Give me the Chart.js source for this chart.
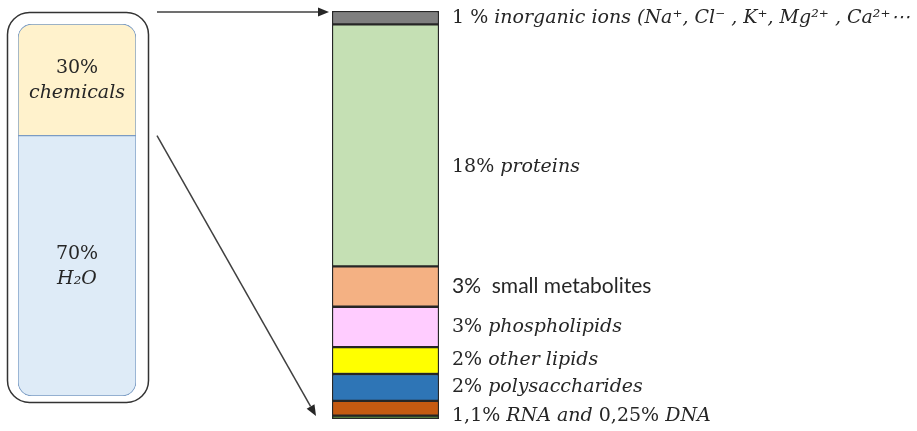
<!DOCTYPE html>
<html>
<head>
<meta charset="utf-8">
<script src="https://cdn.jsdelivr.net/npm/chart.js@4.4.1/dist/chart.umd.min.js"></script>
<style>
  html, body { margin: 0; padding: 0; background: #fff; }
  #wrap { position: relative; width: 917px; height: 431px; }
  #cell { position: absolute; left: 0; top: 0; }
  #chem { position: absolute; left: 150px; top: 0; }
</style>
</head>
<body>
<div id="wrap">
  <canvas id="cell" width="160" height="431"></canvas>
  <canvas id="chem" width="767" height="431"></canvas>
</div>
<script>
// cell content (whole cell, %)
var cellParts = ['H2O', 'chemicals'];
var cellValues = [70, 30];
var cellColors = ['#deebf7', '#fff2cc'];

// chemicals, bottom to top (% of cell mass)
var chemParts = ['DNA', 'RNA', 'polysaccharides', 'other lipids', 'phospholipids', 'small metabolites', 'proteins', 'inorganic ions'];
var chemValues = [0.25, 1.1, 2, 2, 3, 3, 18, 1];
var chemColors = ['#548235', '#c55a11', '#2e75b6', '#ffff00', '#ffccff', '#f4b183', '#c5e0b4', '#7f7f7f'];

var serif = '"DejaVu Serif"';
var textColor = '#262626';

function drawRuns(ctx, runs, x, y) {
    ctx.textBaseline = 'middle';
    ctx.textAlign = 'left';
    runs.forEach(function (r) {
        ctx.font = r[1];
        ctx.fillStyle = textColor;
        ctx.fillText(r[0], x, y);
        x += ctx.measureText(r[0]).width;
    });
}

var up = '19px ' + serif;
var it = 'italic 19px ' + serif;
var sans = '21px Lato';

// label text for each chem segment (index into chemParts)
var chemLabels = [
    { seg: 7, runs: [['1 % ', up], ['inorganic ions (Na\u207A, Cl\u207B , K\u207A, Mg\u00B2\u207A , Ca\u00B2\u207A\u22EF', it]] },
    { seg: 6, dy: 22, runs: [['18% ', up], ['proteins', it]] },
    { seg: 5, runs: [['3%  small metabolites', sans]] },
    { seg: 4, runs: [['3% ', up], ['phospholipids', it]] },
    { seg: 3, runs: [['2% ', up], ['other lipids', it]] },
    { seg: 2, runs: [['2% ', up], ['polysaccharides', it]] },
    { seg: 0.5, runs: [['1,1% ', up], ['RNA and ', it], ['0,25% ', up], ['DNA', it]] }
];

var cellDatasets = cellParts.map(function (p, i) {
    return {
        label: p,
        data: [cellValues[i]],
        backgroundColor: cellColors[i],
        borderColor: '#7b9cc4',
        borderWidth: 1,
        borderSkipped: false,
        borderRadius: i === 0 ? { bottomLeft: 14, bottomRight: 14, topLeft: 0, topRight: 0 }
                              : { topLeft: 14, topRight: 14, bottomLeft: 0, bottomRight: 0 }
    };
});

var cellPlugin = {
    id: 'cellBox',
    beforeDatasetsDraw: function (chart) {
        var ctx = chart.ctx;
        ctx.save();
        ctx.strokeStyle = '#333';
        ctx.lineWidth = 1.5;
        ctx.beginPath();
        ctx.roundRect(7.5, 12.5, 141, 390, 22);
        ctx.stroke();
        ctx.restore();
    },
    afterDatasetsDraw: function (chart) {
        var ctx = chart.ctx;
        var y = chart.scales.y;
        var cx = (chart.chartArea.left + chart.chartArea.right) / 2;
        var names = [['70%', 'H\u2082O'], ['30%', 'chemicals']];
        var base = 0;
        ctx.save();
        ctx.textAlign = 'center';
        ctx.textBaseline = 'middle';
        ctx.fillStyle = textColor;
        cellValues.forEach(function (v, i) {
            var mid = y.getPixelForValue(base + v / 2);
            ctx.font = up;
            ctx.fillText(names[i][0], cx, mid - 12);
            ctx.font = it;
            ctx.fillText(names[i][1], cx, mid + 13);
            base += v;
        });
        ctx.restore();
    }
};

var cellChart = new Chart(document.getElementById('cell').getContext('2d'), {
    type: 'bar',
    data: { labels: ['cell'], datasets: cellDatasets },
    options: {
        responsive: false,
        animation: false,
        layout: { padding: { left: 18, right: 24, top: 24, bottom: 35 } },
        plugins: { legend: { display: false }, tooltip: { enabled: false } },
        datasets: { bar: { barPercentage: 1, categoryPercentage: 1 } },
        scales: {
            x: { display: false, stacked: true },
            y: { display: false, stacked: true, min: 0, max: 100 }
        }
    },
    plugins: [cellPlugin]
});

var chemTotal = chemValues.reduce(function (a, b) { return a + b; }, 0);

var chemDatasets = chemParts.map(function (p, i) {
    return {
        label: p,
        data: [chemValues[i]],
        backgroundColor: chemColors[i],
        borderColor: '#262626',
        borderWidth: 1.5,
        borderSkipped: false
    };
});

function arrow(ctx, x1, y1, x2, y2) {
    var a = Math.atan2(y2 - y1, x2 - x1);
    var len = 11, w = 4.5;
    var bx = x2 - len * Math.cos(a), by = y2 - len * Math.sin(a);
    ctx.beginPath();
    ctx.moveTo(x1, y1);
    ctx.lineTo(bx, by);
    ctx.stroke();
    ctx.beginPath();
    ctx.moveTo(x2, y2);
    ctx.lineTo(bx + w * Math.sin(a), by - w * Math.cos(a));
    ctx.lineTo(bx - w * Math.sin(a), by + w * Math.cos(a));
    ctx.closePath();
    ctx.fill();
}

var chemPlugin = {
    id: 'chemLabels',
    afterDatasetsDraw: function (chart) {
        var ctx = chart.ctx;
        var y = chart.scales.y;
        var area = chart.chartArea;
        var offs = [0];
        chemValues.forEach(function (v, i) { offs.push(offs[i] + v); });

        ctx.save();
        chemLabels.forEach(function (l) {
            var s = Math.floor(l.seg);
            var v = l.seg === s ? offs[s] + chemValues[s] / 2 : offs[s + 1];
            drawRuns(ctx, l.runs, area.right + 13, y.getPixelForValue(v) + (l.dy || 0));
        });

        // arrows from the cell box to the chemicals bar
        var cy = cellChart.scales.y;
        ctx.strokeStyle = '#404040';
        ctx.fillStyle = '#262626';
        ctx.lineWidth = 1.5;
        arrow(ctx, 157 - 150, 12, area.left - 3, 12);
        arrow(ctx, 157 - 150, cy.getPixelForValue(cellValues[0]), area.left - 16, area.bottom - 3);
        ctx.restore();
    }
};

var chemChart = new Chart(document.getElementById('chem').getContext('2d'), {
    type: 'bar',
    data: { labels: ['chemicals'], datasets: chemDatasets },
    options: {
        responsive: false,
        animation: false,
        layout: { padding: { left: 182, right: 478, top: 11, bottom: 12 } },
        plugins: { legend: { display: false }, tooltip: { enabled: false } },
        datasets: { bar: { barPercentage: 1, categoryPercentage: 1 } },
        scales: {
            x: { display: false, stacked: true },
            y: { display: false, stacked: true, min: 0, max: chemTotal }
        }
    },
    plugins: [chemPlugin]
});
</script>
</body>
</html>
